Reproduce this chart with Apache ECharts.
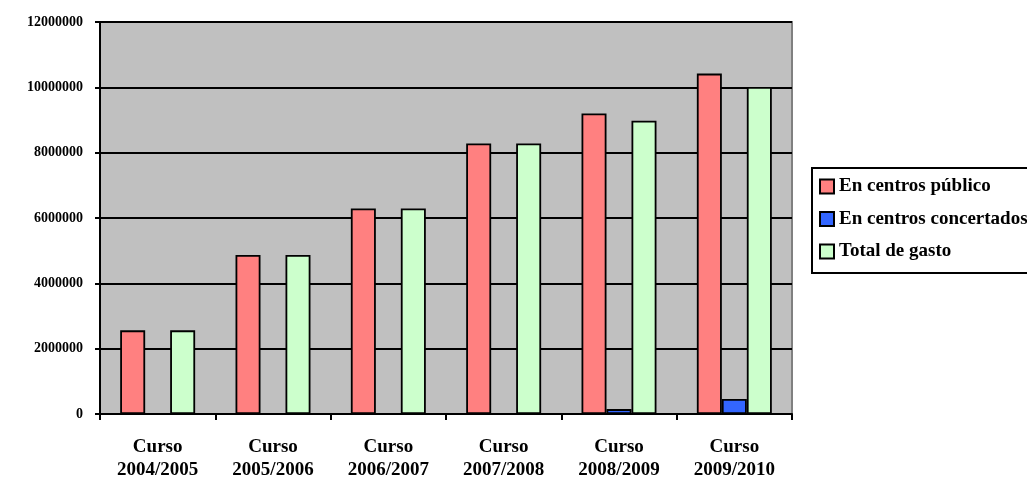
<!DOCTYPE html>
<html>
<head>
<meta charset="utf-8">
<script src="https://cdn.jsdelivr.net/npm/echarts@6/dist/echarts.min.js"></script>
<style>
  html, body { margin: 0; padding: 0; background: #ffffff; }
  #chart { width: 1027px; height: 481px; }
</style>
</head>
<body>
<div id="chart"></div>
<script>
// Gasto por curso escolar
const categories = ['Curso\n2004/2005', 'Curso\n2005/2006', 'Curso\n2006/2007', 'Curso\n2007/2008', 'Curso\n2008/2009', 'Curso\n2009/2010'];
const seriesNames = ['En centros público', 'En centros concertados', 'Total de gasto'];
const centrosPublicos = [2560000, 4870000, 6290000, 8280000, 9200000, 10420000];
const centrosConcertados = [0, 0, 0, 0, 150000, 460000];
const totalGasto = [2560000, 4870000, 6290000, 8280000, 8980000, 10010000];
const seriesColors = ['#FF8080', '#3366FF', '#CCFFCC'];

const FONT = '"Liberation Serif", "Times New Roman", serif';

const chart = echarts.init(document.getElementById('chart'), null, { renderer: 'canvas' });

const makeBar = (name, data, color) => ({
  name: name,
  type: 'bar',
  data: data,
  barGap: '0%',
  barCategoryGap: '35%',
  itemStyle: { color: color, borderColor: '#000000', borderWidth: 1.8 },
  emphasis: { disabled: true }
});

chart.setOption({
  animation: false,
  backgroundColor: '#ffffff',
  grid: {
    left: 100, right: 235, top: 22, bottom: 67,
    containLabel: false,
    outerBoundsMode: 'none',
    show: true,
    backgroundColor: '#C0C0C0',
    borderColor: '#808080',
    borderWidth: 2
  },
  legend: {
    orient: 'vertical',
    left: 812,
    top: 168,
    padding: [9, 60, 12, 7],
    itemWidth: 14,
    itemHeight: 14,
    itemGap: 13.5,
    borderColor: '#000000',
    borderWidth: 2,
    borderRadius: 0,
    backgroundColor: '#ffffff',
    icon: 'rect',
    selectedMode: false,
    textStyle: { fontFamily: FONT, fontWeight: 'bold', fontSize: 19, color: '#000000', padding: [0, 0, 0, 0] },
    data: seriesNames
  },
  xAxis: {
    type: 'category',
    data: categories,
    axisLine: { lineStyle: { color: '#000000', width: 2 } },
    axisTick: { show: true, length: 6, lineStyle: { color: '#000000', width: 2 } },
    axisLabel: {
      margin: 22,
      fontFamily: FONT, fontWeight: 'bold', fontSize: 19, lineHeight: 23, color: '#000000'
    }
  },
  yAxis: {
    type: 'value',
    min: 0,
    max: 12000000,
    interval: 2000000,
    axisLine: { show: true, lineStyle: { color: '#000000', width: 2 } },
    axisTick: { show: true, length: 5, lineStyle: { color: '#000000', width: 2 } },
    splitLine: { show: true, lineStyle: { color: '#000000', width: 2 } },
    axisLabel: {
      margin: 17,
      formatter: (v) => String(v),
      fontFamily: FONT, fontWeight: 'bold', fontSize: 14, color: '#000000'
    }
  },
  series: [
    makeBar(seriesNames[0], centrosPublicos, seriesColors[0]),
    makeBar(seriesNames[1], centrosConcertados, seriesColors[1]),
    makeBar(seriesNames[2], totalGasto, seriesColors[2])
  ]
});
</script>
</body>
</html>
